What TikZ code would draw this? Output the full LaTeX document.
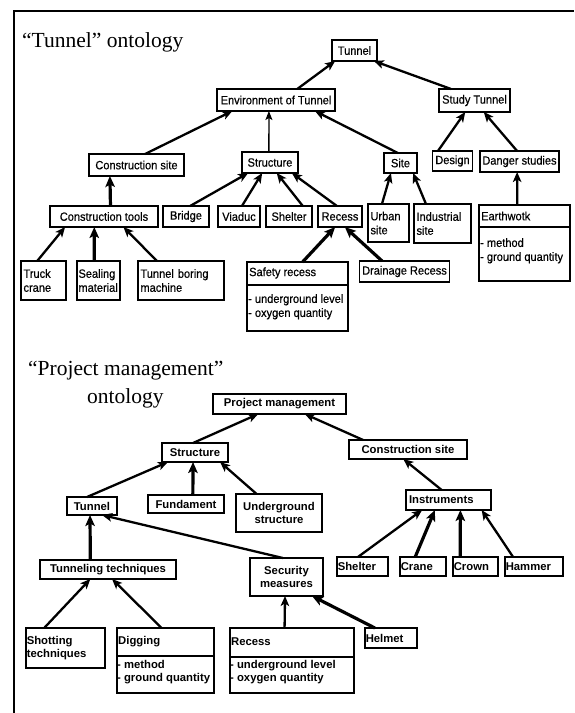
\documentclass[tikz,border=0pt]{standalone}
\usepackage{fontspec}
\setmainfont{Liberation Serif}
\newfontfamily\narial[FakeStretch=0.92,FakeBold=0.4]{Liberation Sans}
\newfontfamily\arial{Liberation Sans}
\usetikzlibrary{arrows.meta,calc}
\newcommand\tfont{\narial\fontsize{12}{14}\selectfont}
\newcommand\bfnt{\arial\bfseries\fontsize{11.3}{13}\selectfont}
\newcommand\ttlfont{\fontsize{21.5}{24}\selectfont}
% style, name, x1, y1, x2, y2, text
\newcommand\mkbox[7]{\node[#1, minimum width={(#5-#3)*1pt}, minimum height={(#6-#4)*1pt}] (#2) at ({(#3+#5)/2},{(#4+#6)/2}) {#7};}
\newcommand\mkboxL[7]{\node[#1, text width={(#5-#3)*1pt-2*\pgfkeysvalueof{/pgf/inner xsep}}, align=left, minimum height={(#6-#4)*1pt}] (#2) at ({(#3+#5)/2},{(#4+#6)/2}) {#7};}
% style, child, frac, parent, frac
\newcommand\arr[5]{\draw[#1] ($(#2.north west)!#3!(#2.north east)$) -- ($(#4.south west)!#5!(#4.south east)$);}
\tikzset{
  tbox/.style={draw, line width=1.3pt, inner xsep=2.5pt, inner ysep=1pt, outer sep=0pt, font=\tfont},
  bbox/.style={draw, line width=1.3pt, inner xsep=0.8pt, inner ysep=1pt, outer sep=0pt, font=\bfnt},
  ar/.style={line width=2.3pt, -{Stealth[length=10pt,width=8.5pt,inset=2.5pt]}},
  arthin/.style={line width=1.3pt, -{Stealth[length=9pt,width=7pt,inset=2pt]}},
  arthick/.style={line width=3.2pt, -{Stealth[length=11pt,width=9.5pt,inset=2.5pt]}},
  ttl/.style={font=\ttlfont, inner sep=0pt, anchor=base west},
  lbl/.style={inner sep=0pt, anchor=west},
  attr/.style={inner sep=0pt, anchor=north west, align=left}
}
\begin{document}
\begin{tikzpicture}[x=1pt,y=-1pt]
\useasboundingbox (0,0) rectangle (574,713);
\fill[white] (0,0) rectangle (574,713);
% frame
\draw[line width=2pt] (14,713) -- (14,11) -- (574,11);
% titles
\node[ttl] (t1) at (22,47) {“Tunnel” ontology};
\node[ttl] (t2) at (28,375) {“Project management”};
\node[ttl] (t3) at (87,403) {ontology};

% ---------- Tunnel ontology ----------
\mkbox{tbox}{tun}{332}{40}{377}{61}{Tunnel}
\mkbox{tbox}{env}{217}{89}{335}{111}{Environment of Tunnel}
\mkbox{tbox}{study}{439}{89}{510}{112}{Study Tunnel}
\mkbox{tbox}{csite}{89}{154}{184}{176}{Construction site}
\mkbox{tbox}{struct}{242}{152}{298}{173}{Structure}
\mkbox{tbox}{site}{384}{153}{417}{173}{Site}
\mkbox{tbox}{design}{433}{151}{472}{171}{Design}
\mkbox{tbox}{danger}{480}{151}{559}{172}{Danger studies}
\mkbox{tbox}{ctools}{50}{206}{158}{227}{Construction tools}
\mkbox{tbox}{bridge}{163}{206}{209}{227}{Bridge}
\mkbox{tbox}{viaduc}{218}{206}{260}{227}{Viaduc}
\mkbox{tbox}{shelter}{266}{206}{312}{227}{Shelter}
\mkbox{tbox}{recess}{318}{206}{362}{227}{Recess}
\mkboxL{tbox}{urban}{368}{204}{409}{242}{Urban\\site}
\mkboxL{tbox}{indus}{414}{204}{471}{243}{Industrial\\site}
\mkbox{tbox}{earth}{479}{205}{570}{281}{}
\draw[line width=1.3pt] (earth.west |- 0,227) -- (earth.east |- 0,227);
\node[lbl, font=\tfont] (earthT) at (481,216) {Earthwotk};
\node[attr, font=\tfont] (earthA) at (480,238) {- method\\- ground quantity};
\mkboxL{tbox}{truck}{21}{261}{66}{300}{Truck\\crane}
\mkboxL{tbox, inner xsep=1.5pt}{seal}{77}{261}{120}{300}{Sealing\\material}
\mkboxL{tbox}{tbm}{138}{261}{224}{300}{Tunnel boring\\machine}
\mkbox{tbox}{safety}{247}{262}{348}{331}{}
\draw[line width=1.3pt] (safety.west |- 0,285) -- (safety.east |- 0,285);
\node[lbl, font=\tfont] (safetyT) at (249,273) {Safety recess};
\node[attr, font=\tfont] (safetyA) at (248,294) {- underground level\\- oxygen quantity};
\mkbox{tbox}{drain}{360}{261}{449}{282}{Drainage Recess}

\arr{ar}{env}{0.68}{tun}{0.07}
\arr{ar}{study}{0.17}{tun}{0.93}
\arr{ar}{csite}{0.59}{env}{0.13}
\arr{arthin}{struct}{0.48}{env}{0.44}
\arr{ar}{site}{0.42}{env}{0.83}
\arr{ar}{design}{0.13}{study}{0.37}
\arr{ar}{danger}{0.47}{study}{0.63}
\arr{arthick}{ctools}{0.56}{csite}{0.22}
\arr{ar}{bridge}{0.59}{struct}{0.11}
\arr{ar}{viaduc}{0.57}{struct}{0.36}
\arr{ar}{shelter}{0.80}{struct}{0.62}
\arr{ar}{recess}{0.43}{struct}{0.89}
\arr{ar}{urban}{0.34}{site}{0.21}
\arr{ar}{indus}{0.21}{site}{0.88}
\arr{ar}{earth}{0.42}{danger}{0.47}
\arr{ar}{truck}{0.36}{ctools}{0.14}
\arr{arthick}{seal}{0.40}{ctools}{0.41}
\arr{ar}{tbm}{0.22}{ctools}{0.68}
\arr{arthick}{safety}{0.55}{recess}{0.39}
\arr{arthick}{drain}{0.25}{recess}{0.61}

% ---------- Project management ontology ----------
\mkbox{bbox}{pm}{213}{394}{346}{414}{Project management}
\mkbox{bbox}{bstruct}{162}{443}{228}{462}{Structure}
\mkbox{bbox}{bcsite}{349}{440}{467}{459}{Construction site}
\mkboxL{bbox, inner xsep=3pt}{instr}{406}{490}{491}{510}{Instruments}
\mkboxL{bbox}{bshelter}{337}{557}{388}{576}{Shelter}
\mkboxL{bbox}{crane}{400}{557}{446}{576}{Crane}
\mkboxL{bbox}{crown}{453}{557}{498}{576}{Crown}
\mkboxL{bbox}{hammer}{505}{557}{563}{576}{Hammer}
\mkbox{bbox}{btunnel}{67}{497}{117}{515}{Tunnel}
\mkbox{bbox}{fund}{148}{495}{224}{513}{Fundament}
\mkbox{bbox, align=center}{ug}{236}{494}{322}{532}{Underground\\structure}
\mkbox{bbox}{tt}{40}{560}{176}{579}{Tunneling techniques}
\mkbox{bbox, align=center}{secm}{250}{558}{323}{596}{Security\\measures}
\mkboxL{bbox}{shot}{26}{628}{105}{668}{Shotting\\techniques}
\mkbox{bbox}{dig}{117}{628}{214}{693}{}
\draw[line width=1.3pt] (dig.west |- 0,656) -- (dig.east |- 0,656);
\node[lbl, font=\bfnt] (digT) at (118,642) {Digging};
\node[attr, font=\bfnt] (digA) at (117,660) {- method\\- ground quantity};
\mkbox{bbox}{brecess}{230}{628}{354}{693}{}
\draw[line width=1.3pt] (brecess.west |- 0,657) -- (brecess.east |- 0,657);
\node[lbl, font=\bfnt] (brecT) at (231,642) {Recess};
\node[attr, font=\bfnt] (brecA) at (230,660) {- underground level\\- oxygen quantity};
\mkboxL{bbox}{helmet}{365}{628}{417}{648}{Helmet}

\arr{ar}{bstruct}{0.47}{pm}{0.34}
\arr{ar}{bcsite}{0.12}{pm}{0.69}
\arr{ar}{instr}{0.42}{bcsite}{0.46}
\arr{ar}{bshelter}{0.41}{instr}{0.19}
\arr{arthick}{crane}{0.33}{instr}{0.34}
\arr{arthick}{crown}{0.16}{instr}{0.64}
\arr{ar}{hammer}{0.14}{instr}{0.89}
\arr{ar}{btunnel}{0.40}{bstruct}{0.09}
\arr{arthick}{fund}{0.59}{bstruct}{0.47}
\arr{ar}{ug}{0.24}{bstruct}{0.88}
\arr{arthick}{tt}{0.37}{btunnel}{0.46}
\arr{ar}{secm}{0.45}{btunnel}{0.70}
\arr{ar}{shot}{0.23}{tt}{0.37}
\arr{ar}{dig}{0.46}{tt}{0.53}
\arr{ar}{brecess}{0.44}{secm}{0.48}
\arr{arthick}{helmet}{0.19}{secm}{0.85}
\end{tikzpicture}
\end{document}
